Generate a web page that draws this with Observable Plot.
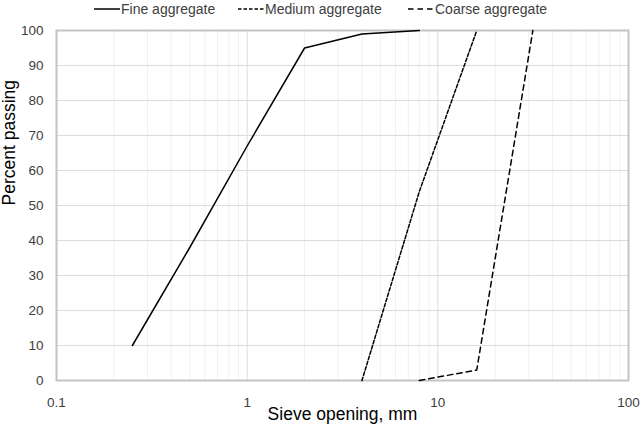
<!DOCTYPE html>
<html>
<head>
<meta charset="utf-8">
<script src="https://cdn.jsdelivr.net/npm/d3@7"></script>
<script src="https://cdn.jsdelivr.net/npm/@observablehq/plot@0.6"></script>
<style>
  html, body { margin: 0; padding: 0; background: #fff; }
  body { width: 640px; height: 429px; overflow: hidden; font-family: "Liberation Sans", Arial, sans-serif; }
  #legend { position: relative; height: 18px; width: 640px; font-size: 14px; color: #404040; }
  .item { position: absolute; top: 0; height: 18px; line-height: 18px; display: flex; align-items: center; white-space: nowrap; }
  .item svg { display: block; margin-right: 1px; }
  #chart svg { display: block; }
</style>
</head>
<body>
<div id="legend"></div>
<div id="chart"></div>
<script>
// ---- data ----
const seriesNames = ["Fine aggregate", "Medium aggregate", "Coarse aggregate"];
const fineSize = [0.25, 0.5, 1, 2, 4, 8];
const finePass = [10, 38, 67, 95, 99, 100];
const mediumSize = [4, 8, 16];
const mediumPass = [0, 54, 100];
const coarseSize = [8, 16, 31.5];
const coarsePass = [0, 3, 100];

const xTickLabels = [0.1, 1, 10, 100];
const xMajorGrid = [1, 10];
const xMinorGrid = [0.2, 0.3, 0.4, 0.5, 0.6, 0.7, 0.8, 0.9, 2, 3, 4, 5, 6, 7, 8, 9, 20, 30, 40, 50, 60, 70, 80, 90];
const yTicks = [0, 10, 20, 30, 40, 50, 60, 70, 80, 90, 100];
const yGrid = [10, 20, 30, 40, 50, 60, 70, 80, 90];

// ---- styles per series ----
const dashes = { "Fine aggregate": null, "Medium aggregate": "3.5,2", "Coarse aggregate": "5.5,4" };

const toRows = (name, xs, ys) => xs.map((x, i) => ({ series: name, size: x, pass: ys[i] }));
const fine = toRows(seriesNames[0], fineSize, finePass);
const medium = toRows(seriesNames[1], mediumSize, mediumPass);
const coarse = toRows(seriesNames[2], coarseSize, coarsePass);

// ---- legend ----
const legendLeft = { "Fine aggregate": 94, "Medium aggregate": 238, "Coarse aggregate": 408 };
const legend = document.getElementById("legend");
seriesNames.forEach(name => {
  const item = document.createElement("div");
  item.className = "item";
  item.style.left = legendLeft[name] + "px";
  const d = dashes[name];
  item.innerHTML = `<svg width="26" height="4"><line x1="0" y1="2" x2="26" y2="2" stroke="#000" stroke-width="1.5" ${d ? `stroke-dasharray="${d}"` : ""}/></svg><span>${name}</span>`;
  legend.appendChild(item);
});

// ---- chart ----
const chart = Plot.plot({
  width: 640,
  height: 411,
  marginTop: 12,
  marginBottom: 49,
  marginLeft: 56,
  marginRight: 12,
  x: { type: "log", domain: [0.1, 100] },
  y: { domain: [0, 100] },
  style: { fontFamily: "'Liberation Sans', Arial, sans-serif", fontSize: "13.5px", color: "#404040", background: "#fff" },
  marks: [
    Plot.ruleX(xMinorGrid, { stroke: "#f0f0f0", strokeWidth: 1 }),
    Plot.ruleX(xMajorGrid, { stroke: "#dcdcdc", strokeWidth: 1 }),
    Plot.ruleY(yGrid, { stroke: "#dcdcdc", strokeWidth: 1 }),
    Plot.frame({ stroke: "#c4c4c4", strokeWidth: 2 }),
    Plot.axisX(xTickLabels, { tickSize: 0, tickPadding: 17, tickFormat: d => String(d), label: null, fontSize: 13.5, fill: "#404040" }),
    Plot.axisY(yTicks, { tickSize: 0, tickPadding: 13, label: null, fontSize: 13.5, fill: "#404040" }),
    Plot.line(fine, { x: "size", y: "pass", stroke: "#000", strokeWidth: 1.5 }),
    Plot.line(medium, { x: "size", y: "pass", stroke: "#000", strokeWidth: 1.5, strokeDasharray: dashes["Medium aggregate"] }),
    Plot.line(coarse, { x: "size", y: "pass", stroke: "#000", strokeWidth: 1.5, strokeDasharray: dashes["Coarse aggregate"] }),
    Plot.text(["Percent passing"], { frameAnchor: "left", dx: -47, rotate: -90, fontSize: 17.5, fill: "#000" }),
    Plot.text(["Sieve opening, mm"], { frameAnchor: "bottom", dy: 39, fontSize: 17.5, fill: "#000" })
  ]
});
document.getElementById("chart").appendChild(chart);
</script>
</body>
</html>
